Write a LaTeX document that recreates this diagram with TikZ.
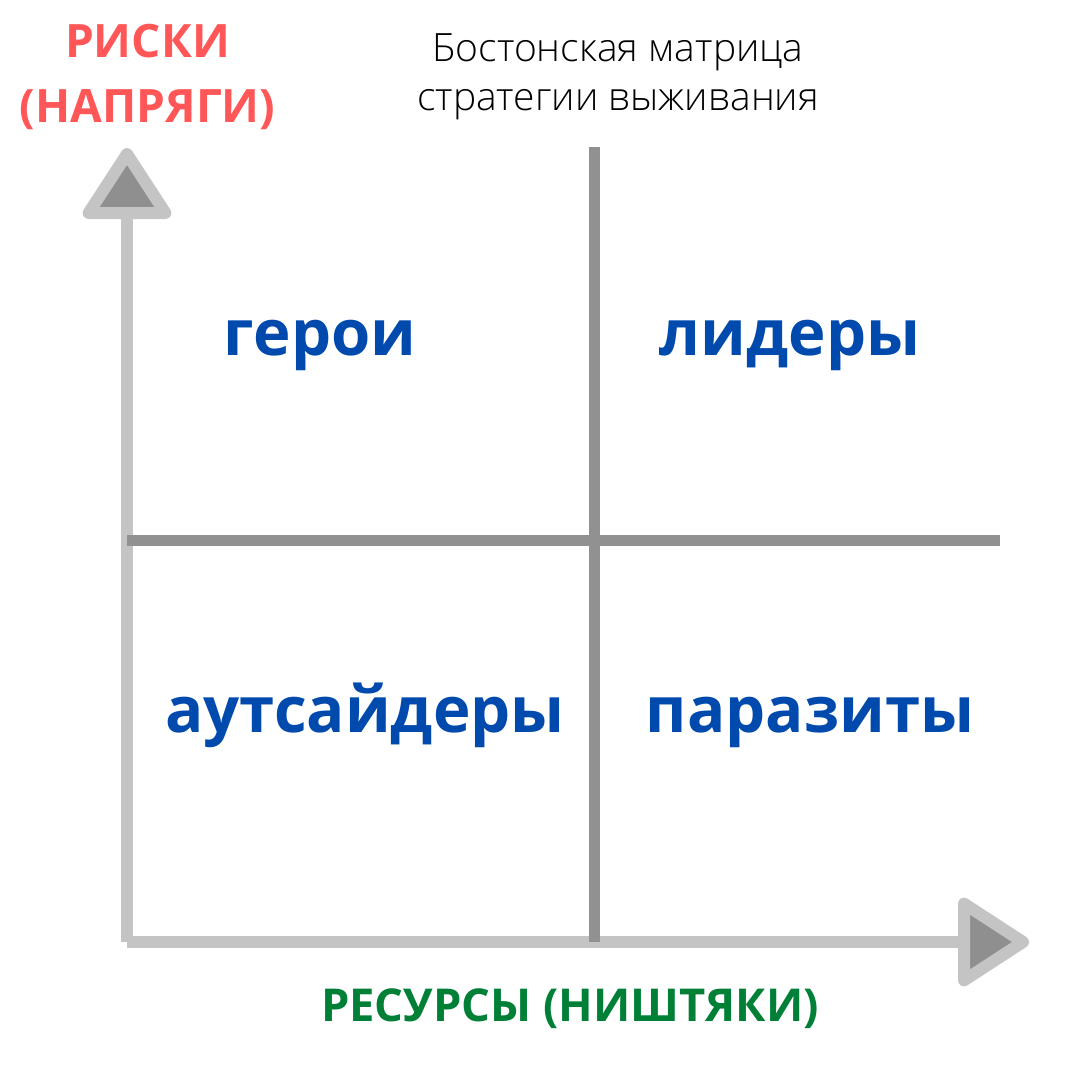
\documentclass[tikz,border=0pt]{standalone}
\usepackage{fontspec}
\setmainfont{Open Sans}
\newfontfamily\titlefont{Open Sans Light}
\usepackage{xcolor}
\usepackage{tikz}
\usetikzlibrary{calc}

\definecolor{axisgray}{HTML}{C4C4C4}
\definecolor{tipgray}{HTML}{8F8F8F}
\definecolor{linegray}{HTML}{919191}
\definecolor{riskred}{HTML}{FF5757}
\definecolor{resgreen}{HTML}{008037}
\definecolor{cellblue}{HTML}{004AAD}

\begin{document}
\begin{tikzpicture}[
    x=1pt, y=-1pt,
    axis/.style={draw=axisgray, line width=12pt, line cap=butt},
    arrowtip/.style={draw=axisgray, fill=tipgray, line width=12pt, line join=round},
    divider/.style={draw=linegray, line width=11pt},
    cell/.style={anchor=base, inner sep=0pt, text=cellblue, font=\bfseries\fontsize{63.5}{64}\selectfont},
    every node/.style={inner sep=0pt}
]
\useasboundingbox (0,0) rectangle (1080,1080);

% оси
\coordinate (origin) at (127,942);
\coordinate (ytop) at (127,213);
\coordinate (xend) at (964,942);
\draw[axis] (origin) -- (ytop);
\draw[axis] (origin) -- (xend);
\draw[arrowtip] (ytop) -- ++(-38.4,0) -- ++(38.4,-59) -- ++(38.4,59) -- cycle;
\draw[arrowtip] (xend) -- ++(0,-38.4) -- ++(59,38.4) -- ++(-59,38.4) -- cycle;

% деление на квадранты
\coordinate (vtop) at (594.5,147);
\coordinate (vbot) at (594.5,942);
\coordinate (hleft) at (127,540.5);
\coordinate (hright) at (1000,540.5);
\draw[divider] (vtop) -- (vbot);
\draw[divider] (hleft) -- (hright);

% подписи (base = последняя строка)
\node[anchor=base, align=center, text=riskred, font=\bfseries\fontsize{46}{65}\selectfont] (risks) at (147.5,122) {РИСКИ\\(НАПРЯГИ)};
\node[anchor=base, text=resgreen, font=\bfseries\fontsize{45.3}{46}\selectfont] (resources) at (570,1021) {РЕСУРСЫ (НИШТЯКИ)};
\node[anchor=base, align=center, font=\titlefont\fontsize{39}{49}\selectfont] (title) at (618,110) {Бостонская матрица\\стратегии выживания};

% квадранты
\node[cell] (heroes) at (320,355) {герои};
\node[cell] (leaders) at (790,355) {лидеры};
\node[cell] (outsiders) at (365,732) {аутсайдеры};
\node[cell] (parasites) at (810,732) {паразиты};

\end{tikzpicture}
\end{document}
